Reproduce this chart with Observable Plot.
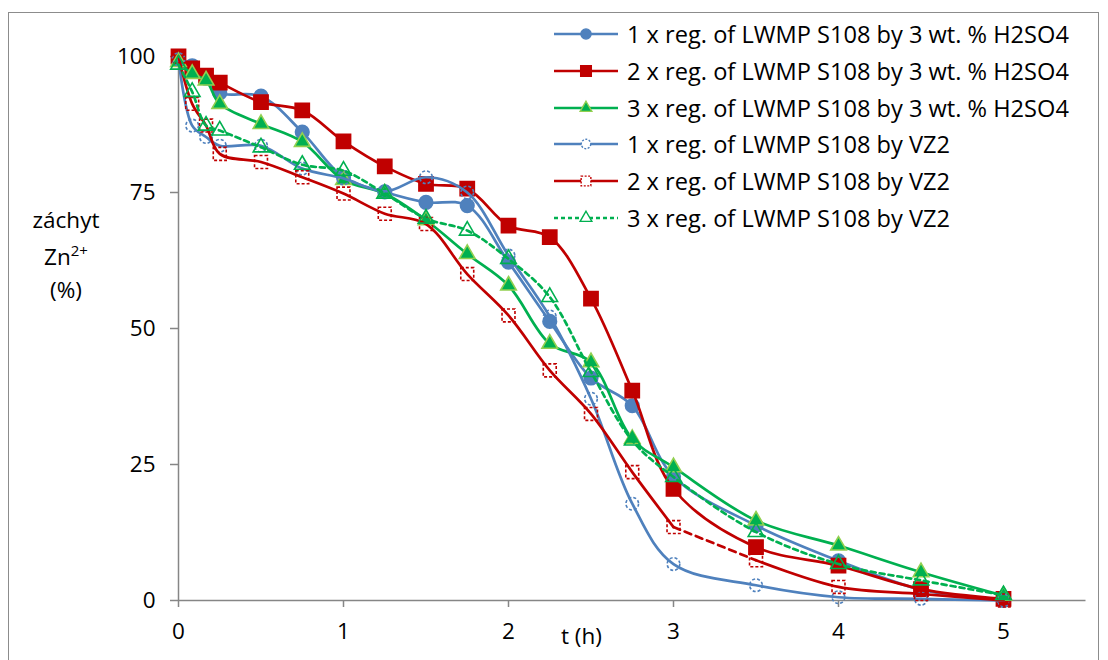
<!DOCTYPE html>
<html><head><meta charset="utf-8">
<script src="https://cdn.jsdelivr.net/npm/d3@7"></script>
<script src="https://cdn.jsdelivr.net/npm/@observablehq/plot@0.6"></script>
<style>
body{margin:0;background:#fff;}
#wrap{position:relative;width:1108px;height:660px;overflow:hidden;font-family:"Open Sans",Lato,sans-serif;color:#000;}
#border{position:absolute;left:8px;top:12px;width:1091px;height:700px;border:1.5px solid #8c8c8c;box-sizing:border-box;}
#chart{position:absolute;left:0;top:0;}
.ylab{position:absolute;font-size:22.5px;text-align:center;width:130px;left:1px;line-height:1;}
.xlab{position:absolute;font-size:22.5px;left:561px;top:625px;line-height:1;}
#legend{position:absolute;left:552px;top:16px;}
.lrow{height:36.7px;display:flex;align-items:center;font-size:23.6px;white-space:nowrap;}
.lrow svg{margin-right:7px;}
</style></head>
<body><div id="wrap"><div id="border"></div><div id="chart"></div>
<div class="ylab" style="top:209px">záchyt</div>
<div class="ylab" style="top:243px">Zn<sup style="font-size:15px;vertical-align:9px">2+</sup></div>
<div class="ylab" style="top:279px">(%)</div>
<div class="xlab">t (h)</div>
<div id="legend"></div>
</div>
<script>
const times = [0, 0.083, 0.167, 0.25, 0.5, 0.75, 1, 1.25, 1.5, 1.75, 2, 2.25, 2.5, 2.75, 3, 3.5, 4, 4.5, 5];
const seriesNames = [
  "1 x reg. of LWMP S108 by 3 wt. % H2SO4",
  "2 x reg. of LWMP S108 by 3 wt. % H2SO4",
  "3 x reg. of LWMP S108 by 3 wt. % H2SO4",
  "1 x reg. of LWMP S108 by VZ2",
  "2 x reg. of LWMP S108 by VZ2",
  "3 x reg. of LWMP S108 by VZ2"
];
const h2so4_1x = [99.5, 98.3, 96, 93.3, 92.7, 86.1, 77.8, 75.1, 73.2, 72.6, 62.2, 51.3, 40.9, 35.8, 22.8, 13.8, 7.3, 2, 0];
const h2so4_2x = [100, 97.8, 96.5, 95.2, 91.6, 90.1, 84.4, 79.8, 76.6, 75.7, 68.9, 66.8, 55.5, 38.6, 20.5, 9.8, 6.4, 2.1, 0.3];
const h2so4_3x = [99, 96.8, 95.6, 91.3, 87.6, 84.3, 77.3, 74.8, 69.9, 63.7, 57.9, 47.2, 43.8, 29.7, 24.5, 14.7, 10.1, 5.2, 0.9];
const vz2_1x = [99.5, 87.3, 85.2, 83.6, 83.6, 79.4, 77.6, 75.2, 77.8, 75, 63.4, 52.2, 37.1, 17.8, 6.7, 2.8, 0.6, 0.3, 0];
const vz2_2x = [100, 91.3, 87.3, 82.1, 80.6, 77.8, 74.8, 71.1, 69.2, 60.0, 52.4, 42.3, 34.3, 23.6, 13.5, 7.4, 2.5, 1.2, 0];
const vz2_3x = [98.5, 93.5, 87.3, 86.4, 83.3, 80.1, 79.0, 74.8, 70.2, 68.0, 62.8, 55.8, 42, 29.4, 22.7, 12.6, 6.7, 3.7, 1.0];
const xTicks = [0, 1, 2, 3, 4, 5];
const yTicks = [0, 25, 50, 75, 100];

const allSeries = [h2so4_1x, h2so4_2x, h2so4_3x, vz2_1x, vz2_2x, vz2_3x];
const BLUE = "#4f81bd", RED = "#c00000", GREEN = "#00b050", LGREEN = "#92d050", GRAY = "#868686";
const styles = [
  {stroke: BLUE, symbol: "circle", r: 6.8, fill: BLUE, mstroke: BLUE, mdash: null, ldash: null},
  {stroke: RED, symbol: "square", r: 8, fill: RED, mstroke: RED, mdash: null, ldash: null},
  {stroke: GREEN, symbol: "triangle", r: 5.8, fill: GREEN, mstroke: LGREEN, mdash: null, ldash: null},
  {stroke: BLUE, symbol: "circle", r: 6.3, fill: "none", mstroke: BLUE, mdash: "3 2", ldash: null},
  {stroke: RED, symbol: "square", r: 7.3, fill: "none", mstroke: RED, mdash: "3 2", ldash: null},
  {stroke: GREEN, symbol: "triangle", r: 5.8, fill: "none", mstroke: GREEN, mdash: null, ldash: "5 4"}
];

const rows = [];
allSeries.forEach((vals, k) => vals.forEach((v, j) => rows.push({k, t: times[j], v})));

const marks = [
  Plot.ruleX([0], {y1: 0, y2: 100, stroke: GRAY, strokeWidth: 1.5}),
  Plot.ruleY([0], {x1: 0, x2: 5.5, stroke: GRAY, strokeWidth: 1.5}),
  Plot.axisY({ticks: yTicks, tickSize: 8, tickPadding: 15, fontSize: 22.5, stroke: GRAY, strokeWidth: 1.5, label: null, fontFamily: "Open Sans"}),
  Plot.axisX({ticks: xTicks, tickFormat: d => String(d), tickSize: 7, tickPadding: 16, fontSize: 22.5, stroke: GRAY, strokeWidth: 1.5, label: null, fontFamily: "Open Sans"})
];
styles.forEach((s, k) => {
  const d = rows.filter(r => r.k === k);
  if (k === 4) {
    marks.push(Plot.line(d.filter(r => r.t <= 3), {x: "t", y: "v", stroke: s.stroke, strokeWidth: 2.7, curve: "catmull-rom"}));
    marks.push(Plot.line(d.filter(r => r.t >= 3 && r.t <= 3.5), {x: "t", y: "v", stroke: s.stroke, strokeWidth: 2.7, strokeDasharray: "7 5"}));
    marks.push(Plot.line(d.filter(r => r.t >= 3.5), {x: "t", y: "v", stroke: s.stroke, strokeWidth: 2.7, curve: "catmull-rom"}));
  } else {
    marks.push(Plot.line(d, {x: "t", y: "v", stroke: s.stroke, strokeWidth: 2.7, curve: "catmull-rom", strokeDasharray: s.ldash}));
  }
  marks.push(Plot.dot(d, {x: "t", y: "v", symbol: s.symbol, r: s.r, fill: s.fill, stroke: s.mstroke, strokeWidth: 1.6, strokeDasharray: s.mdash}));
});

const chart = Plot.plot({
  width: 1108, height: 660,
  marginLeft: 178, marginRight: 22.5, marginTop: 56, marginBottom: 60,
  x: {domain: [0, 5.5]},
  y: {domain: [0, 100]},
  style: {background: "transparent", fontFamily: "Open Sans", color: "#000", overflow: "visible"},
  marks
});
document.getElementById("chart").appendChild(chart);

// legend
const leg = document.getElementById("legend");
const symPath = (sym, r) => d3.symbol(sym === "circle" ? d3.symbolCircle : sym === "square" ? d3.symbolSquare : d3.symbolTriangle, Math.PI * r * r)();
seriesNames.forEach((name, k) => {
  const s = styles[k];
  const row = document.createElement("div");
  row.className = "lrow";
  const rr = s.r * 0.75;
  row.innerHTML = `<svg width="68" height="20"><line x1="2" x2="66" y1="10" y2="10" stroke="${s.stroke}" stroke-width="2.3" ${s.ldash ? `stroke-dasharray="4 3"` : ""}/><path transform="translate(34,10)" d="${symPath(s.symbol, rr)}" fill="${s.fill === "none" ? "#fff" : s.fill}" stroke="${s.mstroke}" stroke-width="1.4" ${s.mdash ? `stroke-dasharray="2 1.5"` : ""}/></svg><span>${name}</span>`;
  leg.appendChild(row);
});
</script>
</body></html>
